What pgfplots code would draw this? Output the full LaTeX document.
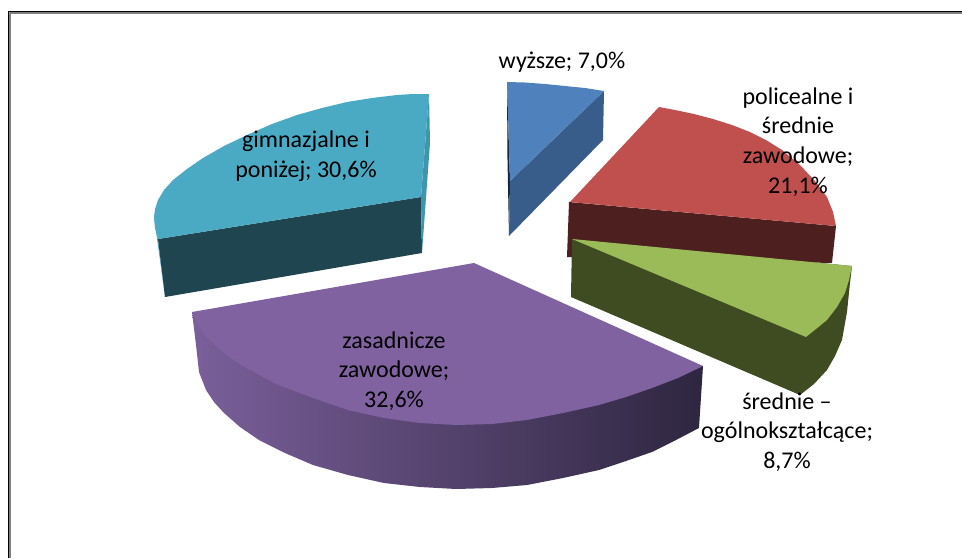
\documentclass[border=0pt]{standalone}
\usepackage{pgfplots}
\pgfplotsset{compat=1.18}
\usepackage{fontspec}
\setmainfont{Carlito}
\definecolor{tealtop}{HTML}{4AAAC4}
\definecolor{tealside}{HTML}{1F4550}
\definecolor{tealin}{HTML}{3E95AE}
\definecolor{bluetop}{HTML}{4F81BD}
\definecolor{blueside}{HTML}{385D8A}
\definecolor{redtop}{HTML}{C0504D}
\definecolor{redside}{HTML}{4D1F1F}
\definecolor{greentop}{HTML}{9BBB59}
\definecolor{greenside}{HTML}{3F4C21}
\definecolor{purptop}{HTML}{8062A0}
\definecolor{purpL}{HTML}{7A5F9A}
\definecolor{purpR}{HTML}{2E2640}
\tikzset{lab/.style={font=\fontsize{24}{29.7}\selectfont, align=center, text=black, inner sep=0pt}}
\begin{document}
\begin{tikzpicture}
\begin{axis}[
  scale only axis, width=962pt, height=558pt,
  xmin=0, xmax=962, ymin=0, ymax=558, y dir=reverse,
  hide axis, clip=true,
  every axis plot/.append style={draw=none, line join=round},
]
% teal
\addplot[fill=tealtop] coordinates {(154,217)(158,239)(165,297)(160,260)};
\addplot[fill=tealside] coordinates {(158,239)(421,197)(422,253)(165,297)};
\addplot[fill=tealin] coordinates {(429,94)(430,143)(422,253)(421,197)};
\addplot[fill=tealtop] coordinates {(429,94)(413,94)(397,95)(372,98)(347,102)(322,108)(297,115)(272,124)(247,135)(224,146)(203,158)(187,169)(173,180)(164,190)(158,200)(155,209)(154,217)(155,228)(158,239)(421,197)};
% blue
\addplot[fill=blueside!40!black] coordinates {(507,82)(510,181)(509,236)(507.5,160)};
\addplot[fill=blueside] coordinates {(510,181)(604,91)(603,140)(509,236)};
\addplot[fill=bluetop] coordinates {(507,82)(525,82.5)(545,84)(565,86)(585,88)(604,91)(510,181)};
% red
\addplot[fill=redside] coordinates {(569,202)(836,226)(832,263)(567,257)};
\addplot[fill=redtop] coordinates {(570,202)(659,107)(675,110)(694,114)(713,119)(732,125)(750,132)(766,140)(782,150)(800,165)(815,181)(827,197)(833,212)(836,226)};
% green
\addplot[fill=greenside] coordinates {(572,239)(852,266)(850,283)(847,312)(842,340)(835,356)(827,370)(814,384)(800,395)(571,297)};
\addplot[fill=greentop] coordinates {(572,239)(852,266)(849,280)(845,293)(837,307)(827,320)(816,329)(806,337)};
% purple
\addplot[left color=purpL, right color=purpR] coordinates {(192,312)(196,345)(199,372)(206,390)(214,402)(224,413)(240,427)(259,440)(285,453)(313,465)(348,475)(384,483)(420,487)(456,489)(492,488)(527,485)(563,478)(599,470)(626,461)(652,452)(676,440)(699,428)(703,366)};
\addplot[fill=purptop] coordinates {(474,263)(703,366)(678,378)(652,388)(626,397)(599,405)(563,413)(527,420)(492,424)(456,425)(420,423)(384,418)(348,410)(313,398)(276,384)(241,365)(220,350)(205,335)(197,323)(192,312)};
% frame
\addplot[draw=gray, line width=1.5pt] coordinates {(10.2,558)(10.2,13.2)(962,13.2)};
\addplot[draw=black, line width=1.5pt] coordinates {(8.7,558)(8.7,11.7)(962,11.7)};
% labels
\node[lab] at (axis cs:562,62) {wyższe; 7,0\%};
\node[lab] at (axis cs:798,142) {policealne i\\średnie\\zawodowe;\\21,1\%};
\node[lab] at (axis cs:306,156) {gimnazjalne i\\poniżej; 30,6\%};
\node[lab] at (axis cs:394,371) {zasadnicze\\zawodowe;\\32,6\%};
\node[lab] at (axis cs:787,432) {średnie --\\ogólnokształcące;\\8,7\%};
\end{axis}
\path (0,0) rectangle (962pt,558pt);
\end{tikzpicture}
\end{document}
